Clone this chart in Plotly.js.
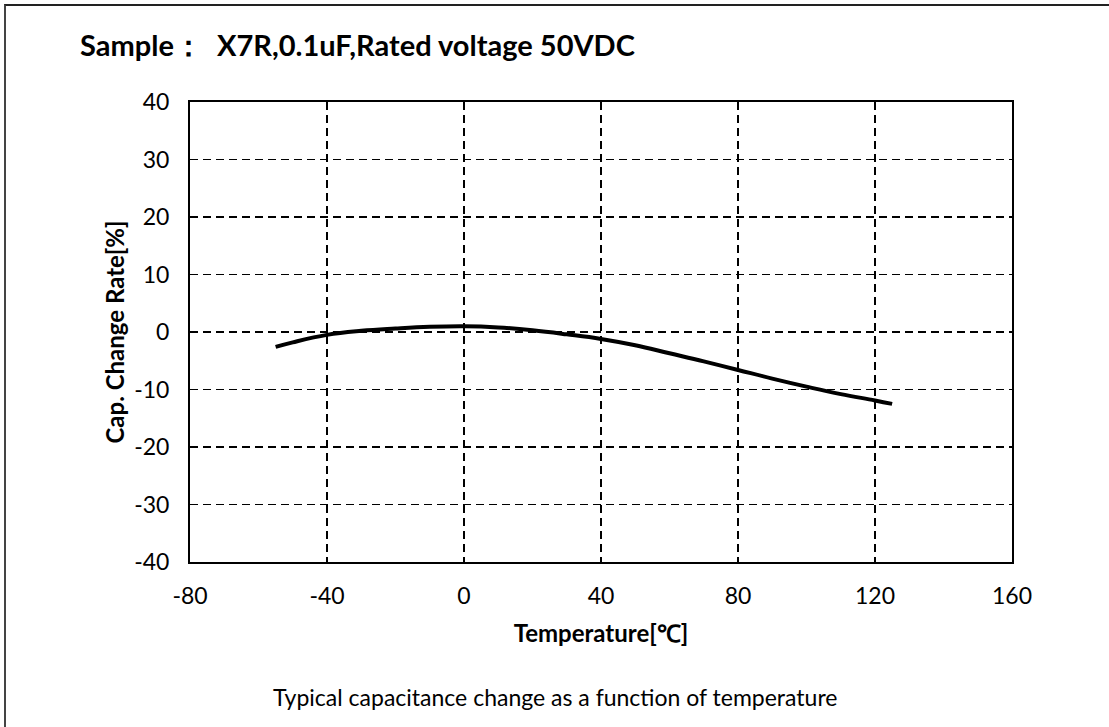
<!DOCTYPE html>
<html>
<head>
<meta charset="utf-8">
<script src="https://cdn.plot.ly/plotly-3.0.1.min.js"></script>
<style>
html,body{margin:0;padding:0;background:#fff;}
#frame{position:absolute;left:4px;top:4px;width:1105px;height:723px;border-top:2px solid #222;border-left:2px solid #444;}
#chart{position:absolute;left:0;top:0;width:1109px;height:727px;}
</style>
</head>
<body>
<div id="chart"></div>
<div id="frame"></div>
<script>
const temperature = [-55, -50, -40, -30, -20, -10, 0, 10, 20, 30, 40, 50, 60, 70, 80, 90, 100, 110, 120, 125];
const capChange   = [-2.6, -1.8, -0.5, 0.2, 0.6, 0.9, 1.0, 0.8, 0.3, -0.4, -1.2, -2.3, -3.7, -5.1, -6.6, -8.1, -9.5, -10.8, -11.9, -12.5];
const xTicks = [-80, -40, 0, 40, 80, 120, 160];
const yTicks = [-40, -30, -20, -10, 0, 10, 20, 30, 40];

const FONT = 'Lato, "Open Sans", "Liberation Sans", sans-serif';

const trace = {
  x: temperature,
  y: capChange,
  mode: 'lines',
  line: {color: '#000', width: 4, shape: 'spline', smoothing: 1.2},
  hoverinfo: 'skip'
};

const layout = {
  width: 1109, height: 727,
  margin: {l: 190, r: 97, t: 102, b: 165},
  paper_bgcolor: '#fff', plot_bgcolor: '#fff',
  showlegend: false,
  font: {family: FONT, color: '#000'},
  title: {
    text: '<b>Sample：  X7R,0.1uF,Rated voltage 50VDC</b>',
    font: {family: FONT, size: 29, color: '#000'},
    x: 80/1109, xanchor: 'left', xref: 'container',
    y: 1 - 46/727, yanchor: 'middle', yref: 'container'
  },
  xaxis: {
    range: [-80, 160],
    tickvals: xTicks,
    ticktext: xTicks.map(String),
    tickfont: {family: FONT, size: 23, color: '#000'},
    ticks: '', ticklabelstandoff: 12,
    showline: true, mirror: true, linecolor: '#000', linewidth: 2,
    showgrid: true, gridcolor: '#000', gridwidth: 1.5, griddash: '8px,5px',
    zeroline: false,
    title: {text: '<b>Temperature[℃]</b>', font: {family: FONT, size: 24, color: '#000'}, standoff: 18}
  },
  yaxis: {
    range: [-40, 40],
    tickvals: yTicks,
    ticktext: yTicks.map(String),
    tickfont: {family: FONT, size: 23, color: '#000'},
    ticks: '', ticklabelstandoff: 14,
    showline: true, mirror: true, linecolor: '#000', linewidth: 2,
    showgrid: true, gridcolor: '#000', gridwidth: 1.5, griddash: '8px,5px',
    zeroline: false,
    title: {text: '<b>Cap. Change Rate[%]</b>', font: {family: FONT, size: 24, color: '#000'}, standoff: 3}
  },
  annotations: [{
    text: 'Typical capacitance change as a function of temperature',
    xref: 'paper', yref: 'paper',
    x: (555 - 190) / (1109 - 190 - 97), y: -(697 - 562) / (562 - 102),
    xanchor: 'center', yanchor: 'middle',
    showarrow: false,
    font: {family: FONT, size: 23, color: '#000'}
  }]
};

Plotly.newPlot('chart', [trace], layout, {displayModeBar: false, staticPlot: true});
</script>
</body>
</html>
